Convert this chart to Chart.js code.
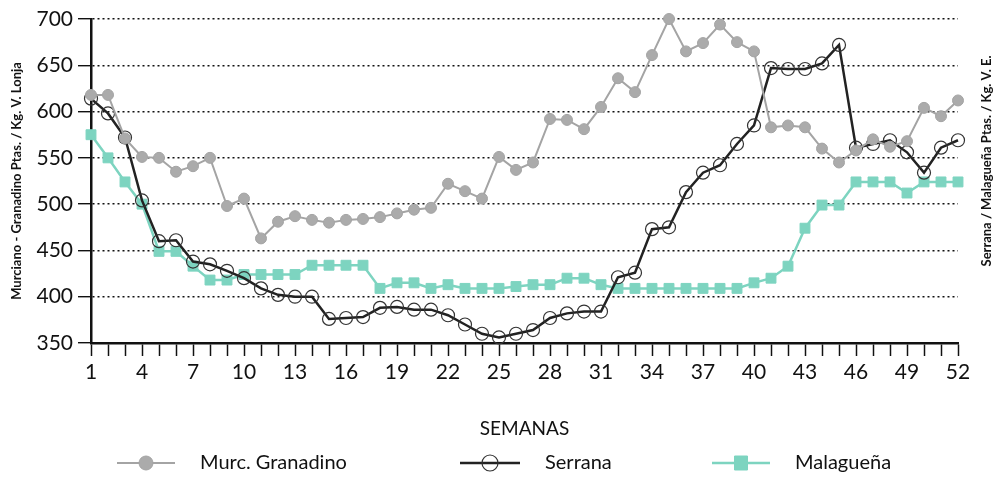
<!DOCTYPE html>
<html>
<head>
<meta charset="utf-8">
<script src="https://cdn.jsdelivr.net/npm/chart.js@4.4.0/dist/chart.umd.min.js"></script>
<style>
  html, body { margin: 0; padding: 0; background: #fff; }
  #grafico { display: block; }
</style>
</head>
<body>
<canvas id="grafico" width="1004" height="477"></canvas>
<script>
'use strict';

// semanas del año
const semanas = ['1','2','3','4','5','6','7','8','9','10','11','12','13','14','15','16','17','18','19','20',
  '21','22','23','24','25','26','27','28','29','30','31','32','33','34','35','36','37','38','39','40',
  '41','42','43','44','45','46','47','48','49','50','51','52'];
const etiquetasX = ['1','4','7','10','13','16','19','22','25','28','31','34','37','40','43','46','49','52'];

// precios (Ptas./Kg)
const murcGranadino = [618,618,571,551,550,535,541,550,498,506,463,481,487,483,480,483,484,486,490,494,
  496,522,514,506,551,537,545,592,591,581,605,636,621,661,700,665,674,694,675,665,
  583,585,583,560,545,558,570,562,568,604,595,612];
const serrana = [614,598,572,504,460,461,438,435,428,420,409,402,400,400,376,377,378,388,389,386,
  386,380,370,360,356,360,364,377,382,384,384,421,426,473,475,513,534,542,565,585,
  647,646,646,652,672,561,565,569,556,534,561,569];
const malaguena = [575,550,524,500,449,449,433,418,418,424,424,424,424,434,434,434,434,409,415,415,
  409,413,409,409,409,411,413,413,420,420,413,409,409,409,409,409,409,409,409,415,
  420,433,474,499,499,524,524,524,512,524,524,524];

const FUENTE = 'Lato, "Gill Sans", sans-serif';

// titulo eje derecho (lee de abajo hacia arriba)
const tituloDerecho = {
  id: 'tituloDerecho',
  afterDraw(chart) {
    const ctx = chart.ctx;
    ctx.save();
    ctx.translate(987, 161);
    ctx.rotate(-Math.PI / 2);
    ctx.font = 'bold 13px ' + FUENTE;
    ctx.fillStyle = '#111';
    ctx.textAlign = 'center';
    ctx.textBaseline = 'middle';
    ctx.fillText('Serrana / Malagueña Ptas. / Kg. V. E.', 0, 0);
    ctx.restore();
  }
};

// leyenda con linea + marcador
const leyenda = {
  id: 'leyenda',
  afterDraw(chart) {
    const ctx = chart.ctx;
    const items = [
      {x1: 117, x2: 175, texto: 200, r: 7},
      {x1: 460, x2: 520, texto: 545, r: 8},
      {x1: 712, x2: 770, texto: 795, r: 7}
    ];
    const y = 463;
    chart.data.datasets.forEach((ds, i) => {
      const it = items[i];
      const cx = (it.x1 + it.x2) / 2;
      ctx.save();
      ctx.strokeStyle = ds.borderColor;
      ctx.lineWidth = ds.borderWidth;
      ctx.beginPath();
      ctx.moveTo(it.x1, y);
      ctx.lineTo(it.x2, y);
      ctx.stroke();
      ctx.fillStyle = ds.pointBackgroundColor;
      ctx.strokeStyle = ds.pointBorderColor;
      ctx.lineWidth = ds.pointBorderWidth;
      ctx.beginPath();
      if (ds.pointStyle === 'rect') {
        ctx.rect(cx - it.r + 0.5, y - it.r, it.r * 2 - 1, it.r * 2);
      } else {
        ctx.arc(cx, y, it.r, 0, Math.PI * 2);
      }
      ctx.fill();
      ctx.stroke();
      ctx.font = '20px ' + FUENTE;
      ctx.fillStyle = '#111';
      ctx.textAlign = 'left';
      ctx.textBaseline = 'middle';
      ctx.fillText(ds.label, it.texto, y);
      ctx.restore();
    });
  }
};

new Chart(document.getElementById('grafico'), {
  type: 'line',
  data: {
    labels: semanas,
    datasets: [
      {
        label: 'Murc. Granadino',
        data: murcGranadino,
        borderColor: '#a4a4a4',
        borderWidth: 2,
        pointStyle: 'circle',
        pointRadius: 5.5,
        pointBackgroundColor: '#ababab',
        pointBorderColor: '#a4a4a4',
        pointBorderWidth: 1,
        tension: 0,
        clip: false
      },
      {
        label: 'Serrana',
        data: serrana,
        borderColor: '#222222',
        borderWidth: 2.5,
        pointStyle: 'circle',
        pointRadius: 6.5,
        pointBackgroundColor: 'rgba(255,255,255,0)',
        pointBorderColor: '#333333',
        pointBorderWidth: 1.2,
        tension: 0,
        clip: false
      },
      {
        label: 'Malagueña',
        data: malaguena,
        borderColor: '#7dd4c0',
        borderWidth: 2.5,
        pointStyle: 'rect',
        pointRadius: 7,
        pointBackgroundColor: '#7dd4c0',
        pointBorderColor: '#7dd4c0',
        pointBorderWidth: 1,
        tension: 0,
        clip: false
      }
    ]
  },
  options: {
    responsive: false,
    animation: false,
    devicePixelRatio: 1,
    layout: { padding: { left: 0, right: 46, top: 19, bottom: 37 } },
    plugins: {
      legend: { display: false },
      tooltip: { enabled: false }
    },
    scales: {
      x: {
        type: 'category',
        offset: false,
        afterFit(scale) { scale.height = 97; },
        grid: {
          display: true,
          drawOnChartArea: false,
          drawTicks: true,
          tickLength: 13,
          tickColor: '#111',
          tickWidth: 1.5,
          offset: false
        },
        border: { display: true, color: '#111', width: 2.5 },
        ticks: {
          autoSkip: false,
          maxRotation: 0,
          padding: 4,
          color: '#111',
          font: { family: FUENTE, size: 21 },
          callback: function(value) {
            const lab = this.getLabelForValue(value);
            return etiquetasX.includes(lab) ? lab : '';
          }
        },
        title: {
          display: true,
          text: 'SEMANAS',
          color: '#111',
          font: { family: FUENTE, size: 19 },
          padding: { top: 0, bottom: 0 }
        }
      },
      y: {
        min: 350,
        max: 700,
        afterFit(scale) { scale.width = 91; },
        grid: {
          color: '#111',
          lineWidth: 1.4,
          drawTicks: true,
          tickLength: 13,
          tickColor: '#111',
          tickWidth: 1.4,
          tickBorderDash: []
        },
        border: { display: true, color: '#111', width: 2.5, dash: [2, 3] },
        ticks: {
          stepSize: 50,
          padding: 5,
          color: '#111',
          font: { family: FUENTE, size: 21 }
        },
        title: {
          display: true,
          text: 'Murciano - Granadino Ptas. / Kg. V. Lonja',
          color: '#111',
          font: { family: FUENTE, size: 13, weight: 'bold' },
          padding: { top: 9, bottom: 0 }
        }
      }
    }
  },
  plugins: [tituloDerecho, leyenda]
});
</script>
</body>
</html>
